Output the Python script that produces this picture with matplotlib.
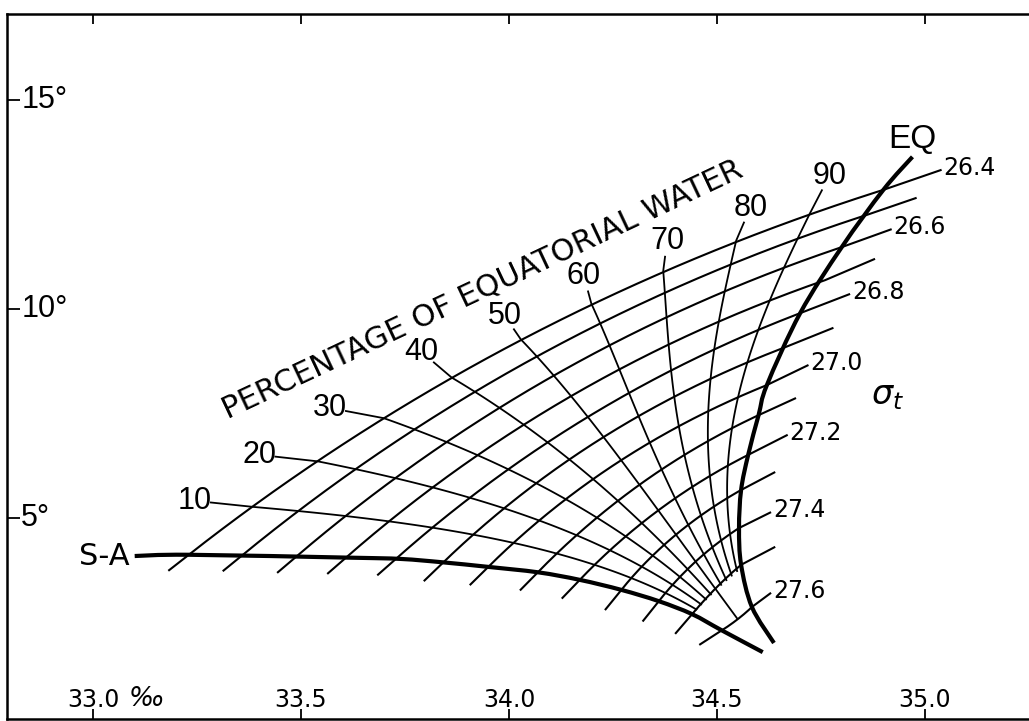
import numpy as np
import matplotlib.pyplot as plt
from matplotlib.path import Path
from matplotlib.patches import PathPatch

# T-S diagram: mixing of S-A water and equatorial (EQ) water along sigma-t surfaces

# S-A water type curve (salinity, temperature)
sa_S = [33.10, 33.23, 33.62, 33.74, 33.84, 33.95, 34.07, 34.17, 34.27, 34.36, 34.44, 34.51, 34.61]
sa_T = [4.09, 4.12, 4.05, 4.02, 3.94, 3.83, 3.70, 3.52, 3.28, 3.01, 2.70, 2.32, 1.79]

# EQ water type curve
eq_S = [34.97, 34.90, 34.80, 34.70, 34.62, 34.60, 34.575, 34.558, 34.553, 34.558, 34.584, 34.637]
eq_T = [13.64, 12.85, 11.48, 9.90, 8.18, 7.46, 6.51, 5.67, 4.76, 3.88, 2.87, 2.01]

# sigma-t lines: where they meet S-A, a middle point, where they meet EQ, outer end
sig_vals = [26.4, 26.5, 26.6, 26.7, 26.8, 26.9, 27.0, 27.1, 27.2, 27.3, 27.4, 27.5, 27.6]
sig_sa_S = [33.23, 33.36, 33.49, 33.61, 33.73, 33.84, 33.95, 34.07, 34.17, 34.27, 34.36, 34.44, 34.51]
sig_sa_T = [4.12, 4.12, 4.09, 4.07, 4.04, 3.92, 3.83, 3.71, 3.52, 3.28, 3.01, 2.70, 2.30]
sig_mid_S = [34.02, 34.07, 34.11, 34.15, 34.19, 34.22, 34.26, 34.32, 34.36, 34.40, 34.45, 34.50, 34.55]
sig_mid_T = [9.21, 8.88, 8.42, 7.92, 7.42, 6.89, 6.32, 5.84, 5.19, 4.59, 3.97, 3.35, 2.58]
sig_eq_S = [34.90, 34.86, 34.80, 34.76, 34.70, 34.66, 34.62, 34.60, 34.575, 34.558, 34.553, 34.558, 34.584]
sig_eq_T = [12.85, 12.25, 11.48, 10.69, 9.90, 9.07, 8.18, 7.46, 6.51, 5.67, 4.76, 3.88, 2.87]
sig_end_S = [35.04, 34.98, 34.92, 34.88, 34.82, 34.78, 34.72, 34.69, 34.67, 34.64, 34.63, 34.64, 34.63]
sig_end_T = [13.33, 12.66, 11.91, 11.20, 10.36, 9.55, 8.66, 7.87, 6.99, 6.10, 5.14, 4.31, 3.21]
sig_labeled = ['26.4', '26.6', '26.8', '27.0', '27.2', '27.4', '27.6']

# percentage of equatorial water, and where the numbers sit
pct_vals = [10, 20, 30, 40, 50, 60, 70, 80, 90]
pct_lab_S = [33.245, 33.40, 33.57, 33.79, 33.99, 34.18, 34.38, 34.58, 34.77]
pct_lab_T = [5.41, 6.51, 7.63, 8.97, 9.83, 10.79, 11.63, 12.42, 13.18]
pct_last_sig = 27.5   # the fan stops here, only the 50 line reaches 27.6

x_ticks = [33.0, 33.5, 34.0, 34.5, 35.0]
x_tick_labels = ['33.0', '33.5', '34.0', '34.5', '35.0']
y_ticks = [5, 10, 15]
y_tick_labels = ['5°', '10°', '15°']

fig = plt.figure(figsize=(10.29, 7.21), dpi=100)
ax = fig.add_axes([7 / 1029, 2 / 721, 1.0, 705 / 721])
ax.set_xlim(32.793, 35.267)
ax.set_ylim(0.191, 17.057)
for side in ['left', 'top', 'bottom']:
    ax.spines[side].set_linewidth(1.8)
ax.spines['right'].set_visible(False)
ax.set_xticks(x_ticks)
ax.set_yticks(y_ticks)
ax.tick_params(axis='x', direction='in', top=True, bottom=True, length=7, width=1.3,
               labelbottom=False)
ax.tick_params(axis='y', direction='in', left=True, right=False, length=9, width=1.3,
               labelleft=False)

for s, lab in zip(x_ticks, x_tick_labels):
    ax.text(s, 0.36, lab, ha='center', va='bottom', fontsize=17, family='DejaVu Sans')
ax.text(33.085, 0.36, '‰', ha='left', va='bottom', fontsize=19, style='italic',
        family='DejaVu Sans')
for t, lab in zip(y_ticks, y_tick_labels):
    ax.text(32.827, t, lab, ha='left', va='center', fontsize=22, family='Liberation Sans')

toD = ax.transData
toS = ax.transData.inverted()


def disp(s, t):
    return toD.transform(np.column_stack([s, t]))


def bez(p0, m, p2, n=300):
    c = 2 * m - (p0 + p2) / 2
    t = np.linspace(0, 1, n)[:, None]
    return (1 - t) ** 2 * p0 + 2 * t * (1 - t) * c + t ** 2 * p2, c


def plot_disp(pts, **kw):
    d = toS.transform(pts)
    ax.plot(d[:, 0], d[:, 1], **kw)


def smooth_curve(xs, ys, **kw):
    # Catmull-Rom through the read points, drawn as cubic Bezier segments
    p = np.column_stack([xs, ys])
    q = np.vstack([p[0], p, p[-1]])
    verts, codes = [p[0]], [Path.MOVETO]
    for i in range(len(p) - 1):
        c1 = q[i + 1] + (q[i + 2] - q[i]) / 6
        c2 = q[i + 2] - (q[i + 3] - q[i + 1]) / 6
        verts += [c1, c2, q[i + 2]]
        codes += [Path.CURVE4] * 3
    ax.add_patch(PathPatch(Path(verts, codes), fill=False, **kw))


thin = dict(color='black', lw=1.5, solid_capstyle='butt', solid_joinstyle='round')

# sigma-t lines
curves = []
for k in range(len(sig_vals)):
    p0 = disp(sig_sa_S[k], sig_sa_T[k])[0]
    m = disp(sig_mid_S[k], sig_mid_T[k])[0]
    p2 = disp(sig_eq_S[k], sig_eq_T[k])[0]
    pe = disp(sig_end_S[k], sig_end_T[k])[0]
    curve, c = bez(p0, m, p2)
    curves.append(curve)
    tan = (c - p0) / np.hypot(*(c - p0))
    hatch = p0 - 26 * tan
    full = np.vstack([hatch, curve, pe])
    plot_disp(full, **thin)
    lab = '%.1f' % sig_vals[k]
    if lab in sig_labeled:
        e = toS.transform(pe + np.array([2, 2]))
        ax.text(e[0], e[1], lab, ha='left', va='center', fontsize=17, family='DejaVu Sans')

# percentage lines, divided along each sigma-t line by length
pct_pts = []
for curve in curves:
    seg = np.hypot(*np.diff(curve, axis=0).T)
    cum = np.concatenate([[0], np.cumsum(seg)]) / seg.sum()
    row = [[np.interp(p / 100, cum, curve[:, 0]), np.interp(p / 100, cum, curve[:, 1])]
           for p in pct_vals]
    pct_pts.append(row)
pct_pts = np.array(pct_pts)  # (sigma, pct, 2)

kk = np.arange(len(sig_vals))
k_last = sig_vals.index(pct_last_sig)
for j, p in enumerate(pct_vals):
    kmax = kk[-1] if p == 50 else k_last
    kf = np.linspace(0, kmax, 120)
    # smooth the divided points into one even line
    fx = np.polyval(np.polyfit(kk, pct_pts[:, j, 0], 3), kf)
    fy = np.polyval(np.polyfit(kk, pct_pts[:, j, 1], 3), kf)
    line = np.column_stack([fx, fy])
    lab = disp(pct_lab_S[j], pct_lab_T[j])[0]
    top = line[0]
    v = lab - top
    dist = np.hypot(*v)
    lead = top + v / dist * (dist - 16)
    plot_disp(np.vstack([lead, line]), color='black', lw=1.3, solid_joinstyle='round')
    ax.text(pct_lab_S[j], pct_lab_T[j], str(p), ha='center', va='center', fontsize=22,
            family='Liberation Sans')

# water type curves
smooth_curve(sa_S, sa_T, color='black', lw=3.0, capstyle='butt')
smooth_curve(eq_S, eq_T, color='black', lw=3.0, capstyle='butt')

ax.text(33.089, 4.09, 'S-A', ha='right', va='center', fontsize=22, family='DejaVu Sans')
ax.text(34.97, 14.05, 'EQ', ha='center', va='center', fontsize=24, family='Liberation Sans')
ax.text(34.909, 7.94, r'$\sigma_t$', ha='center', va='center', fontsize=24)
ax.text(33.935, 10.47, 'PERCENTAGE OF EQUATORIAL WATER', rotation=25.2,
        rotation_mode='anchor', ha='center', va='center', fontsize=22, family='DejaVu Sans')

fig.savefig('out.png', dpi=100)
